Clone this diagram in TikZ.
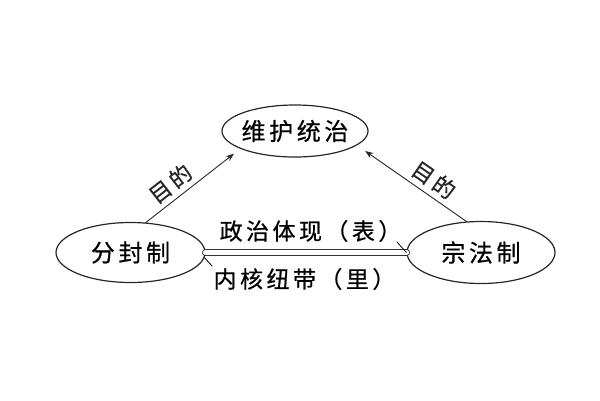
\documentclass[tikz,border=0pt]{standalone}
\usepackage{fontspec}
\newfontfamily\cjk{Noto Sans CJK SC}[LetterSpace=15, FakeBold=0.6]
\usetikzlibrary{shapes.geometric,arrows.meta}

\begin{document}
\begin{tikzpicture}[x=1pt, y=-1pt, line join = round, line cap = round,
    oval/.style 2 args={ellipse, draw=black!85, line width=1.2pt, inner sep=0pt,
        minimum width=#1, minimum height=#2, font=\cjk\fontsize{24}{24}\selectfont},
    lbl/.style={inner sep=0pt, font=\cjk\fontsize{23}{23}\selectfont},
    aim/.style={-{Stealth[length=8pt,width=6pt]}, line width=0.9pt, black!85},
    aimtext/.style={sloped, above=5pt, inner sep=0pt, font=\cjk\fontsize{22}{22}\selectfont}]
    \useasboundingbox (0,0) rectangle (600,400);

    \node[oval={146}{52}] (wei)   at (295,131)   {\makebox[0pt]{维护统治}};
    \node[oval={149}{60}] (fen)   at (130.5,252.5) {\makebox[0pt]{分封制}};
    \node[oval={148}{62}] (zong)  at (481,252.5) {\makebox[0pt]{宗法制}};

    \node[lbl] (biao) at (310.5,231) {政治体现（表）};
    \node[lbl] (li)   at (304.5,279) {内核纽带（里）};

    \coordinate (tBiao) at (397,242);
    \coordinate (tLi)   at (212,266);

    %\draw[red] (0,0) rectangle (600,400);
    \draw[aim, shorten >=8pt] (fen.63) -- node[aimtext, pos=0.36] {目的} (wei.198);
    \draw[aim, shorten >=10pt] (zong.115) -- node[aimtext, pos=0.38] {目的} (wei.347);

    \draw[double, double distance=5.5pt, line width=0.9pt, black!80] (fen.east) -- (zong.west);
    \draw[line width=0.8pt] (tBiao) -- (zong.west);
    \draw[line width=0.8pt] (fen.356) -- (tLi);
\end{tikzpicture}
\end{document}
